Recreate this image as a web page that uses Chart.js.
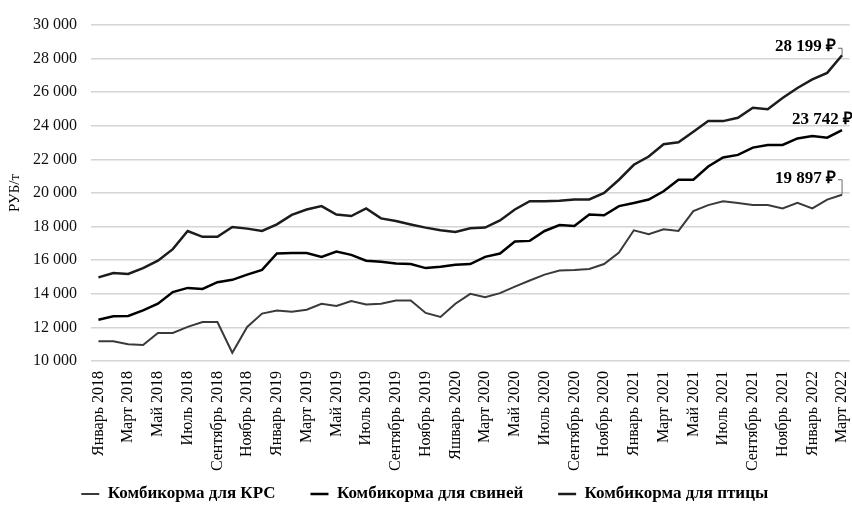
<!DOCTYPE html>
<html>
<head>
<meta charset="utf-8">
<script src="https://cdn.jsdelivr.net/npm/chart.js@4.4.1/dist/chart.umd.min.js"></script>
<style>
  html, body { margin: 0; padding: 0; background: #fff; }
  canvas { display: block; }
</style>
</head>
<body>
<canvas id="feedChart" width="852" height="507"></canvas>
<script>
// Monthly categories, January 2018 – March 2022
const months = [
  'Январь 2018','Февраль 2018','Март 2018','Апрель 2018','Май 2018','Июнь 2018',
  'Июль 2018','Август 2018','Сентябрь 2018','Октябрь 2018','Ноябрь 2018','Декабрь 2018',
  'Январь 2019','Февраль 2019','Март 2019','Апрель 2019','Май 2019','Июнь 2019',
  'Июль 2019','Август 2019','Сентябрь 2019','Октябрь 2019','Ноябрь 2019','Декабрь 2019',
  'Яшварь 2020','Февраль 2020','Март 2020','Апрель 2020','Май 2020','Июнь 2020',
  'Июль 2020','Август 2020','Сентябрь 2020','Октябрь 2020','Ноябрь 2020','Декабрь 2020',
  'Январь 2021','Февраль 2021','Март 2021','Апрель 2021','Май 2021','Июнь 2021',
  'Июль 2021','Август 2021','Сентябрь 2021','Октябрь 2021','Ноябрь 2021','Декабрь 2021',
  'Январь 2022','Февраль 2022','Март 2022'
];

// Feed prices, RUB per tonne
const cattleFeed = [
  11180, 11180, 11000, 10950, 11670, 11670, 12030, 12320, 12320, 10490, 12030, 12820,
  13010, 12930, 13050, 13410, 13270, 13570, 13370, 13410, 13600, 13600, 12860, 12620,
  13410, 14000, 13800, 14040, 14430, 14790, 15140, 15380, 15420, 15480, 15770, 16460,
  17780, 17550, 17840, 17740, 18920, 19280, 19510, 19410, 19280, 19280, 19080, 19410,
  19080, 19610, 19897
];
const pigFeed = [
  12460, 12660, 12680, 13010, 13410, 14100, 14350, 14290, 14690, 14830, 15140, 15420,
  16400, 16430, 16430, 16200, 16520, 16320, 15970, 15910, 15810, 15770, 15530, 15610,
  15730, 15770, 16200, 16400, 17110, 17150, 17740, 18090, 18040, 18720, 18670, 19220,
  19410, 19610, 20100, 20790, 20790, 21580, 22110, 22270, 22700, 22860, 22860, 23250,
  23390, 23290, 23742
];
const poultryFeed = [
  14980, 15240, 15180, 15530, 15970, 16660, 17740, 17390, 17390, 17980, 17880, 17740,
  18130, 18700, 19020, 19220, 18720, 18630, 19080, 18490, 18330, 18130, 17940, 17780,
  17680, 17900, 17940, 18370, 19020, 19510, 19510, 19540, 19610, 19620, 20000, 20790,
  21680, 22170, 22900, 23020, 23650, 24280, 24280, 24480, 25070, 24990, 25660, 26250,
  26760, 27150, 28199
];

const seriesNames = ['Комбикорма для КРС', 'Комбикорма для свиней', 'Комбикорма для птицы'];
const yMin = 10000;
const yMax = 30000;
const yStep = 2000;
const unitTitle = 'РУБ/т';
const currency = '₽';

const SERIF = '"Liberation Serif", "Times New Roman", serif';

function groupThousands(v) {
  return String(Math.round(v)).replace(/\B(?=(\d{3})+(?!\d))/g, ' ');
}

// Value callouts at the last point of each series
const endValueLabels = {
  id: 'endValueLabels',
  afterDatasetsDraw(chart) {
    const ctx = chart.ctx;
    // per-dataset placement: text offset and optional leader line
    const place = [
      { dx: -6, dy: -16, align: 'right', leader: -15 },
      { dx: -50, dy: -11, align: 'left', leader: null },
      { dx: -6, dy: -9, align: 'right', leader: -7 }
    ];
    ctx.save();
    ctx.font = 'bold 17px ' + SERIF;
    ctx.textBaseline = 'middle';
    chart.data.datasets.forEach((ds, i) => {
      const meta = chart.getDatasetMeta(i);
      const pt = meta.data[meta.data.length - 1];
      const value = ds.data[ds.data.length - 1];
      const p = place[i];
      ctx.fillStyle = '#000';
      ctx.textAlign = p.align;
      ctx.fillText(groupThousands(value) + ' ' + currency, pt.x + p.dx, pt.y + p.dy);
      if (p.leader !== null) {
        ctx.strokeStyle = '#6a6a6a';
        ctx.lineWidth = 1;
        ctx.beginPath();
        ctx.moveTo(pt.x - 4, pt.y + p.leader);
        ctx.lineTo(pt.x, pt.y + p.leader);
        ctx.lineTo(pt.x, pt.y);
        ctx.stroke();
      }
    });
    ctx.restore();
  }
};

new Chart(document.getElementById('feedChart'), {
  type: 'line',
  data: {
    labels: months,
    datasets: [
      { label: seriesNames[0], data: cattleFeed, borderColor: '#3a3a3a', backgroundColor: '#3a3a3a', borderWidth: 2 },
      { label: seriesNames[1], data: pigFeed, borderColor: '#000000', backgroundColor: '#000000', borderWidth: 2.5 },
      { label: seriesNames[2], data: poultryFeed, borderColor: '#1c1c1c', backgroundColor: '#1c1c1c', borderWidth: 2.5 }
    ]
  },
  options: {
    responsive: false,
    animation: false,
    devicePixelRatio: 1,
    layout: { padding: { top: 25, right: 2.5, bottom: -5.5, left: 0 } },
    elements: {
      point: { radius: 0, hoverRadius: 0 },
      line: { tension: 0, fill: false }
    },
    plugins: {
      legend: {
        position: 'bottom',
        labels: {
          usePointStyle: true,
          pointStyle: 'line',
          pointStyleWidth: 18,
          padding: 6,
          color: '#000',
          font: { family: SERIF, size: 17, weight: 'bold' },
          // trailing spaces widen the gap between entries (not after the last one)
          generateLabels(chart) {
            const items = Chart.defaults.plugins.legend.labels.generateLabels(chart);
            return items.map((item, i) => Object.assign(item, {
              text: i < items.length - 1 ? item.text + '\u2003\u2002\u2009' : item.text
            }));
          }
        }
      },
      tooltip: { enabled: false }
    },
    scales: {
      x: {
        offset: true,
        grid: { display: false, drawTicks: false },
        border: { display: false },
        ticks: {
          autoSkip: false,
          maxRotation: 90,
          minRotation: 90,
          padding: 10,
          color: '#000',
          font: { family: SERIF, size: 16 },
          callback: (v, i) => (i % 2 === 0 ? months[i] : '')
        },
        afterFit(scale) {
          scale.height = 118.5;
          scale.paddingLeft = 0;
          scale.paddingRight = 0;
        }
      },
      y: {
        min: yMin,
        max: yMax,
        grid: { color: '#d4d4d4', lineWidth: 1.5, drawTicks: false },
        border: { display: false },
        ticks: {
          stepSize: yStep,
          padding: 14,
          color: '#111',
          font: { family: SERIF, size: 16 },
          callback: (v) => groupThousands(v)
        },
        title: {
          display: true,
          text: unitTitle,
          color: '#000',
          font: { family: SERIF, size: 15 },
          padding: { top: 6, bottom: 0 }
        },
        afterFit(scale) { scale.width = 91; }
      }
    }
  },
  plugins: [endValueLabels]
});
</script>
</body>
</html>
